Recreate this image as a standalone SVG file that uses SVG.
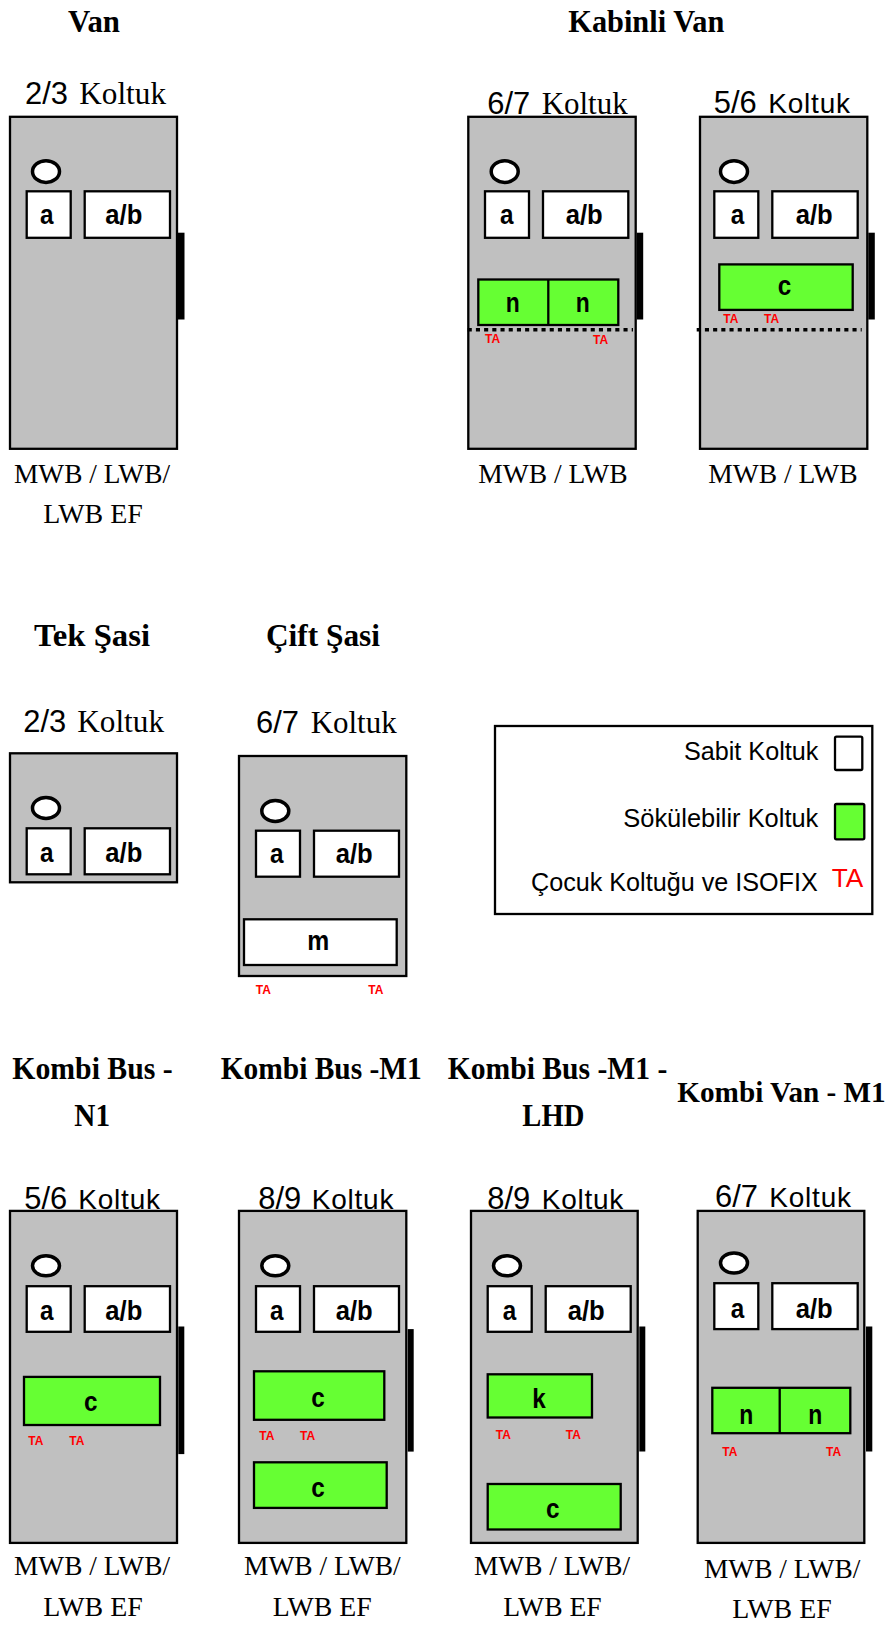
<svg xmlns="http://www.w3.org/2000/svg" width="891" height="1625" viewBox="0 0 891 1625">
<style>
text{fill:#000}
.t{font:bold 31px "Liberation Serif",serif}
.d{font:31px "Liberation Sans",sans-serif}
.k{font:31px "Liberation Serif",serif}
.ks{font:28px "Liberation Sans",sans-serif}
.m{font:27px "Liberation Serif",serif}
.b{font:bold 27px "Liberation Sans",sans-serif}
.ta{font:bold 12px "Liberation Sans",sans-serif;fill:#f00}
.l{font:25px "Liberation Sans",sans-serif}
.body{fill:#c0c0c0;stroke:#000;stroke-width:2.3}
.w{fill:#fff;stroke:#000;stroke-width:2.3}
.g{fill:#6f3;stroke:#000;stroke-width:2.3}
.o{fill:#fff;stroke:#000;stroke-width:3.5}
.dash{fill:none;stroke:#000;stroke-width:3.5;stroke-dasharray:4.1 4.1}
.div{stroke:#000;stroke-width:2.3}
</style>
<rect width="891" height="1625" fill="#fff"/>

<g id="van">
<text class="t" x="68" y="32" textLength="52" lengthAdjust="spacingAndGlyphs">Van</text>
<text class="d" x="25" y="104.4" textLength="43" lengthAdjust="spacingAndGlyphs">2/3</text>
<text class="k" x="79.3" y="104.4" textLength="86.7" lengthAdjust="spacingAndGlyphs">Koltuk</text>
<rect class="body" x="10" y="116.8" width="167" height="332"/>
<rect x="178" y="232.7" width="6.5" height="86.8"/>
<ellipse class="o" cx="46" cy="171.6" rx="13.5" ry="10.8"/>
<rect class="w" x="26.7" y="191.3" width="44" height="46.5"/>
<rect class="w" x="84.7" y="191.3" width="85.3" height="46.5"/>
<text class="b" x="40" y="224" textLength="13.5" lengthAdjust="spacingAndGlyphs">a</text>
<text class="b" x="105.3" y="224" textLength="37" lengthAdjust="spacingAndGlyphs">a/b</text>
<text class="m" x="14" y="482.9" textLength="156" lengthAdjust="spacingAndGlyphs">MWB / LWB/</text>
<text class="m" x="43.3" y="523.2" textLength="99.5" lengthAdjust="spacingAndGlyphs">LWB EF</text>
</g>

<text id="title-kabinli" class="t" x="568.3" y="32" textLength="156" lengthAdjust="spacingAndGlyphs">Kabinli Van</text>

<g id="kabinli-67">
<text class="d" x="487.3" y="113.7" textLength="43" lengthAdjust="spacingAndGlyphs">6/7</text>
<text class="k" x="541.7" y="113.7" textLength="86" lengthAdjust="spacingAndGlyphs">Koltuk</text>
<rect class="body" x="468.3" y="116.8" width="167.4" height="332"/>
<rect x="636.7" y="232.7" width="6.5" height="86.8"/>
<ellipse class="o" cx="504.7" cy="171.6" rx="13.5" ry="10.8"/>
<rect class="w" x="485" y="191.3" width="44" height="46.5"/>
<rect class="w" x="543" y="191.3" width="85.3" height="46.5"/>
<text class="b" x="500" y="224" textLength="13.5" lengthAdjust="spacingAndGlyphs">a</text>
<text class="b" x="565.7" y="224" textLength="37" lengthAdjust="spacingAndGlyphs">a/b</text>
<rect class="g" x="478.3" y="279.5" width="140" height="45.5"/>
<line class="div" x1="548.3" y1="279.5" x2="548.3" y2="325"/>
<text class="b" x="505.7" y="312" textLength="14" lengthAdjust="spacingAndGlyphs">n</text>
<text class="b" x="575.7" y="312" textLength="14" lengthAdjust="spacingAndGlyphs">n</text>
<line class="dash" x1="467.7" y1="329.8" x2="633" y2="329.8"/>
<text class="ta" x="485" y="343.3">TA</text>
<text class="ta" x="593" y="344.3">TA</text>
<text class="m" x="478.3" y="482.9" textLength="149.4" lengthAdjust="spacingAndGlyphs">MWB / LWB</text>
</g>

<g id="kabinli-56">
<text class="d" x="713.7" y="112.7" textLength="43" lengthAdjust="spacingAndGlyphs">5/6</text>
<text class="ks" x="768.3" y="112.7" textLength="81.7">Koltuk</text>
<rect class="body" x="700" y="116.8" width="167.3" height="332"/>
<rect x="868.3" y="232.7" width="6.5" height="86.8"/>
<ellipse class="o" cx="734" cy="171.6" rx="13.5" ry="10.8"/>
<rect class="w" x="714.3" y="191.3" width="44" height="46.5"/>
<rect class="w" x="772.3" y="191.3" width="85.4" height="46.5"/>
<text class="b" x="730.7" y="224" textLength="13.5" lengthAdjust="spacingAndGlyphs">a</text>
<text class="b" x="795.7" y="224" textLength="37" lengthAdjust="spacingAndGlyphs">a/b</text>
<rect class="g" x="719.3" y="264.4" width="133.4" height="45.5"/>
<text class="b" x="777.7" y="294.7" textLength="13.5" lengthAdjust="spacingAndGlyphs">c</text>
<line class="dash" x1="696.7" y1="329.8" x2="861.7" y2="329.8"/>
<text class="ta" x="723.3" y="323.3">TA</text>
<text class="ta" x="764" y="323.3">TA</text>
<text class="m" x="708.3" y="482.9" textLength="149.4" lengthAdjust="spacingAndGlyphs">MWB / LWB</text>
</g>

<g id="tek-sasi">
<text class="t" x="34" y="645.7" textLength="116" lengthAdjust="spacingAndGlyphs">Tek Şasi</text>
<text class="d" x="23.3" y="731.7" textLength="43" lengthAdjust="spacingAndGlyphs">2/3</text>
<text class="k" x="77.3" y="731.7" textLength="86.7" lengthAdjust="spacingAndGlyphs">Koltuk</text>
<rect class="body" x="10" y="753.3" width="167" height="129"/>
<ellipse class="o" cx="46" cy="808" rx="13.5" ry="10.5"/>
<rect class="w" x="26.7" y="828.3" width="44" height="46"/>
<rect class="w" x="84.7" y="828.3" width="85.3" height="46"/>
<text class="b" x="40" y="861.7" textLength="13.5" lengthAdjust="spacingAndGlyphs">a</text>
<text class="b" x="105.3" y="861.7" textLength="37" lengthAdjust="spacingAndGlyphs">a/b</text>
</g>

<g id="cift-sasi">
<text class="t" x="266" y="646" textLength="114" lengthAdjust="spacingAndGlyphs">Çift Şasi</text>
<text class="d" x="256" y="732.7" textLength="43" lengthAdjust="spacingAndGlyphs">6/7</text>
<text class="k" x="310.7" y="732.7" textLength="86" lengthAdjust="spacingAndGlyphs">Koltuk</text>
<rect class="body" x="239" y="756" width="167.3" height="220"/>
<ellipse class="o" cx="275.3" cy="811" rx="13.5" ry="10.5"/>
<rect class="w" x="256" y="830.7" width="44" height="46"/>
<rect class="w" x="314" y="830.7" width="85" height="46"/>
<text class="b" x="270" y="862.7" textLength="13.5" lengthAdjust="spacingAndGlyphs">a</text>
<text class="b" x="335.7" y="862.7" textLength="37" lengthAdjust="spacingAndGlyphs">a/b</text>
<rect class="w" x="244" y="919.3" width="152.7" height="45.7"/>
<text class="b" x="307.3" y="950" textLength="22" lengthAdjust="spacingAndGlyphs">m</text>
<text class="ta" x="255.7" y="993.7">TA</text>
<text class="ta" x="368.3" y="993.7">TA</text>
</g>

<g id="legend">
<rect x="495" y="726" width="377.3" height="188" fill="#fff" stroke="#000" stroke-width="2.3"/>
<text class="l" x="684" y="760" textLength="134.3" lengthAdjust="spacingAndGlyphs">Sabit Koltuk</text>
<rect class="w" x="835" y="736.7" width="27.3" height="33.3" rx="1.5"/>
<text class="l" x="623.3" y="826.7" textLength="195" lengthAdjust="spacingAndGlyphs">Sökülebilir Koltuk</text>
<rect class="g" x="835" y="804" width="29.3" height="35.3" rx="1.5"/>
<text class="l" x="531" y="890.7" textLength="286.7" lengthAdjust="spacingAndGlyphs">Çocuk Koltuğu ve ISOFIX</text>
<text class="l" x="831.7" y="887.3" style="fill:#f00" textLength="31.6" lengthAdjust="spacingAndGlyphs">TA</text>
</g>

<g id="kombi-bus-n1">
<text class="t" x="12.3" y="1079.2" textLength="160.4" lengthAdjust="spacingAndGlyphs">Kombi Bus -</text>
<text class="t" x="74.3" y="1125.9" textLength="35.7" lengthAdjust="spacingAndGlyphs">N1</text>
<text class="d" x="24.3" y="1208.7" textLength="43" lengthAdjust="spacingAndGlyphs">5/6</text>
<text class="ks" x="78.3" y="1208.7" textLength="81.7">Koltuk</text>
<rect class="body" x="10" y="1210.9" width="167" height="332"/>
<rect x="178.3" y="1326.5" width="6" height="127.6"/>
<ellipse class="o" cx="46" cy="1265.8" rx="13.5" ry="10"/>
<rect class="w" x="26.7" y="1286.2" width="44" height="45.6"/>
<rect class="w" x="84.7" y="1286.2" width="85.3" height="45.6"/>
<text class="b" x="40" y="1319.8" textLength="13.5" lengthAdjust="spacingAndGlyphs">a</text>
<text class="b" x="105.3" y="1319.8" textLength="37" lengthAdjust="spacingAndGlyphs">a/b</text>
<rect class="g" x="24" y="1376.9" width="136" height="48.1"/>
<text class="b" x="84" y="1411.3" textLength="13.5" lengthAdjust="spacingAndGlyphs">c</text>
<text class="ta" x="28.3" y="1445.2">TA</text>
<text class="ta" x="69.3" y="1445.2">TA</text>
<text class="m" x="14" y="1575.3" textLength="156" lengthAdjust="spacingAndGlyphs">MWB / LWB/</text>
<text class="m" x="43.3" y="1615.7" textLength="99.5" lengthAdjust="spacingAndGlyphs">LWB EF</text>
</g>

<g id="kombi-bus-m1">
<text class="t" x="220.7" y="1079.2" textLength="201" lengthAdjust="spacingAndGlyphs">Kombi Bus -M1</text>
<text class="d" x="258.3" y="1208.7" textLength="43" lengthAdjust="spacingAndGlyphs">8/9</text>
<text class="ks" x="311.7" y="1208.7" textLength="81.7">Koltuk</text>
<rect class="body" x="239" y="1210.9" width="167.3" height="332"/>
<rect x="407.7" y="1329.1" width="6" height="122.5"/>
<ellipse class="o" cx="275.3" cy="1265.8" rx="13.5" ry="10"/>
<rect class="w" x="256" y="1286.2" width="44" height="45.6"/>
<rect class="w" x="314" y="1286.2" width="85" height="45.6"/>
<text class="b" x="270" y="1319.8" textLength="13.5" lengthAdjust="spacingAndGlyphs">a</text>
<text class="b" x="335.7" y="1319.8" textLength="37" lengthAdjust="spacingAndGlyphs">a/b</text>
<rect class="g" x="254" y="1371.3" width="130.3" height="48.5"/>
<text class="b" x="311.3" y="1406.8" textLength="13.5" lengthAdjust="spacingAndGlyphs">c</text>
<text class="ta" x="259.3" y="1439.9">TA</text>
<text class="ta" x="300" y="1439.9">TA</text>
<rect class="g" x="254" y="1462.3" width="132.7" height="45.6"/>
<text class="b" x="311.3" y="1497" textLength="13.5" lengthAdjust="spacingAndGlyphs">c</text>
<text class="m" x="244" y="1575.3" textLength="156.7" lengthAdjust="spacingAndGlyphs">MWB / LWB/</text>
<text class="m" x="272.7" y="1615.7" textLength="99" lengthAdjust="spacingAndGlyphs">LWB EF</text>
</g>

<g id="kombi-bus-m1-lhd">
<text class="t" x="447.7" y="1079.2" textLength="219.6" lengthAdjust="spacingAndGlyphs">Kombi Bus -M1 -</text>
<text class="t" x="522.3" y="1125.9" textLength="62" lengthAdjust="spacingAndGlyphs">LHD</text>
<text class="d" x="487.3" y="1208.7" textLength="43" lengthAdjust="spacingAndGlyphs">8/9</text>
<text class="ks" x="541.7" y="1208.7" textLength="81.6">Koltuk</text>
<rect class="body" x="471" y="1210.9" width="166.7" height="332"/>
<rect x="639.3" y="1326.5" width="6" height="125"/>
<ellipse class="o" cx="507" cy="1265.8" rx="13.5" ry="10"/>
<rect class="w" x="487.7" y="1286.2" width="44" height="45.6"/>
<rect class="w" x="545.7" y="1286.2" width="85" height="45.6"/>
<text class="b" x="502.7" y="1319.8" textLength="13.5" lengthAdjust="spacingAndGlyphs">a</text>
<text class="b" x="567.7" y="1319.8" textLength="37" lengthAdjust="spacingAndGlyphs">a/b</text>
<rect class="g" x="487.7" y="1374.3" width="104.3" height="43.2"/>
<text class="b" x="532.3" y="1407.5" textLength="13.5" lengthAdjust="spacingAndGlyphs">k</text>
<text class="ta" x="495.7" y="1438.5">TA</text>
<text class="ta" x="565.7" y="1438.5">TA</text>
<rect class="g" x="487.7" y="1484" width="133" height="45.5"/>
<text class="b" x="546" y="1517.6" textLength="13.5" lengthAdjust="spacingAndGlyphs">c</text>
<text class="m" x="474" y="1575.3" textLength="156" lengthAdjust="spacingAndGlyphs">MWB / LWB/</text>
<text class="m" x="503.3" y="1615.7" textLength="98.4" lengthAdjust="spacingAndGlyphs">LWB EF</text>
</g>

<g id="kombi-van-m1">
<text class="t" x="677.3" y="1101.6" style="font-size:29px" textLength="208.4" lengthAdjust="spacingAndGlyphs">Kombi Van - M1</text>
<text class="d" x="715" y="1206.8" textLength="43" lengthAdjust="spacingAndGlyphs">6/7</text>
<text class="ks" x="769.3" y="1206.8" textLength="81.7">Koltuk</text>
<rect class="body" x="697.7" y="1210.9" width="166.6" height="332"/>
<rect x="866" y="1326.5" width="6.3" height="125"/>
<ellipse class="o" cx="734" cy="1263" rx="13.5" ry="10"/>
<rect class="w" x="714.3" y="1283.2" width="44" height="45.9"/>
<rect class="w" x="772.3" y="1283.2" width="85.4" height="45.9"/>
<text class="b" x="730.7" y="1317.9" textLength="13.5" lengthAdjust="spacingAndGlyphs">a</text>
<text class="b" x="795.7" y="1317.9" textLength="37" lengthAdjust="spacingAndGlyphs">a/b</text>
<rect class="g" x="712.3" y="1387.8" width="138" height="45.4"/>
<line class="div" x1="779.7" y1="1387.8" x2="779.7" y2="1433.2"/>
<text class="b" x="739.3" y="1423.6" textLength="14" lengthAdjust="spacingAndGlyphs">n</text>
<text class="b" x="808.3" y="1423.6" textLength="14" lengthAdjust="spacingAndGlyphs">n</text>
<text class="ta" x="722.3" y="1456">TA</text>
<text class="ta" x="826" y="1456">TA</text>
<text class="m" x="704" y="1578.4" textLength="156.3" lengthAdjust="spacingAndGlyphs">MWB / LWB/</text>
<text class="m" x="732.3" y="1618.3" textLength="99.4" lengthAdjust="spacingAndGlyphs">LWB EF</text>
</g>
</svg>
